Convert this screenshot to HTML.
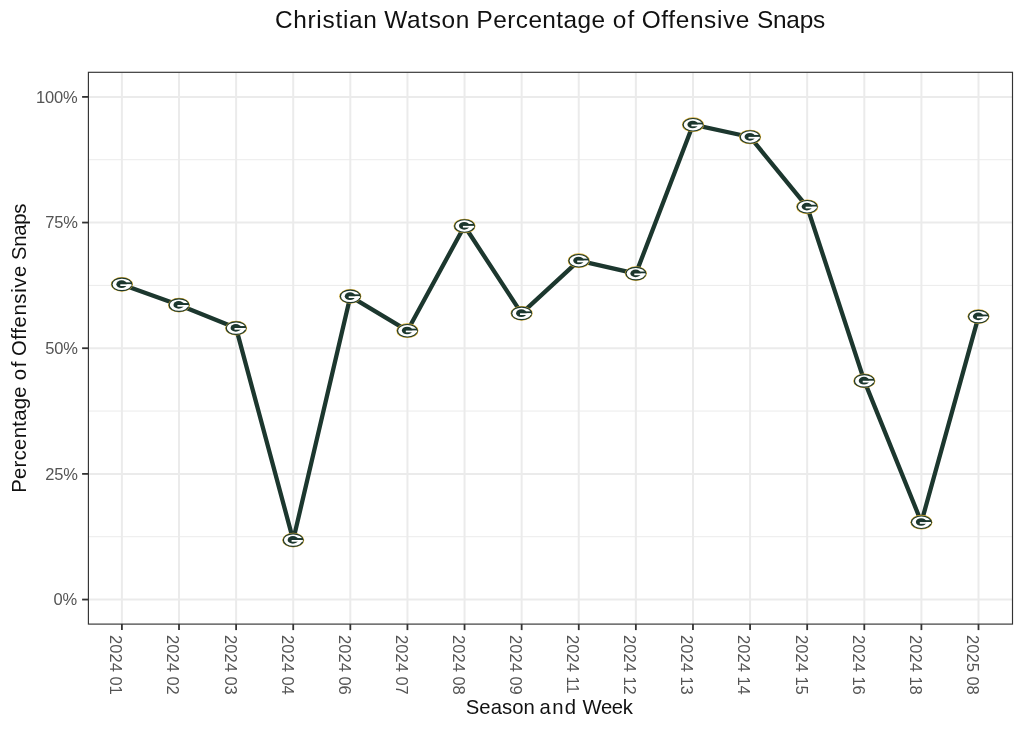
<!DOCTYPE html>
<html lang="en">
<head>
<meta charset="utf-8">
<title>Christian Watson Percentage of Offensive Snaps</title>
<style>
html,body{margin:0;padding:0;background:#fff;}
body{width:1024px;height:731px;overflow:hidden;}
svg{display:block;will-change:transform;-webkit-font-smoothing:antialiased;}
text{font-family:"Liberation Sans",sans-serif;}
.tick{font-size:16.5px;fill:#545454;}
.axt{font-size:20.3px;fill:#111;}
.ttl{font-size:24.4px;fill:#111;}
</style>
</head>
<body>
<svg width="1024" height="731" viewBox="0 0 1024 731">
<rect x="0" y="0" width="1024" height="731" fill="#ffffff"/>
<g stroke="#ebebeb" stroke-width="1.0" fill="none">
<line x1="88.4" x2="1012.5" y1="536.72" y2="536.72"/>
<line x1="88.4" x2="1012.5" y1="411.06" y2="411.06"/>
<line x1="88.4" x2="1012.5" y1="285.39" y2="285.39"/>
<line x1="88.4" x2="1012.5" y1="159.73" y2="159.73"/>
</g>
<g stroke="#ebebeb" stroke-width="2.0" fill="none">
<line x1="88.4" x2="1012.5" y1="599.55" y2="599.55"/>
<line x1="88.4" x2="1012.5" y1="473.89" y2="473.89"/>
<line x1="88.4" x2="1012.5" y1="348.22" y2="348.22"/>
<line x1="88.4" x2="1012.5" y1="222.56" y2="222.56"/>
<line x1="88.4" x2="1012.5" y1="96.90" y2="96.90"/>
<line x1="121.90" x2="121.90" y1="72.3" y2="624.1"/>
<line x1="179.01" x2="179.01" y1="72.3" y2="624.1"/>
<line x1="236.11" x2="236.11" y1="72.3" y2="624.1"/>
<line x1="293.22" x2="293.22" y1="72.3" y2="624.1"/>
<line x1="350.33" x2="350.33" y1="72.3" y2="624.1"/>
<line x1="407.43" x2="407.43" y1="72.3" y2="624.1"/>
<line x1="464.54" x2="464.54" y1="72.3" y2="624.1"/>
<line x1="521.65" x2="521.65" y1="72.3" y2="624.1"/>
<line x1="578.76" x2="578.76" y1="72.3" y2="624.1"/>
<line x1="635.86" x2="635.86" y1="72.3" y2="624.1"/>
<line x1="692.97" x2="692.97" y1="72.3" y2="624.1"/>
<line x1="750.08" x2="750.08" y1="72.3" y2="624.1"/>
<line x1="807.18" x2="807.18" y1="72.3" y2="624.1"/>
<line x1="864.29" x2="864.29" y1="72.3" y2="624.1"/>
<line x1="921.40" x2="921.40" y1="72.3" y2="624.1"/>
<line x1="978.50" x2="978.50" y1="72.3" y2="624.1"/>
</g>
<polyline points="121.9,284.4 179.0,305.1 236.1,328.1 293.2,540.1 350.3,296.4 407.4,330.7 464.5,226.0 521.6,313.4 578.8,260.7 635.9,273.6 693.0,124.7 750.1,137.0 807.2,206.8 864.3,380.9 921.4,522.2 978.5,316.6" fill="none" stroke="#1c372e" stroke-width="4.3" stroke-linejoin="round" stroke-linecap="butt"/>
<g transform="translate(121.9 284.4)"><ellipse rx="11.05" ry="7.35" fill="#d4a92c"/><ellipse rx="10.5" ry="6.8" fill="#1c372e"/><ellipse rx="9.25" ry="5.7" fill="#ffffff"/><ellipse cx="-0.3" cy="-0.2" rx="5.25" ry="3.85" fill="#1c372e"/><rect x="2" y="-2.05" width="7.7" height="2.0" fill="#1c372e"/><rect x="-1.6" y="-0.1" width="11.2" height="1.7" fill="#ffffff"/></g>
<g transform="translate(179.0 305.1)"><ellipse rx="11.05" ry="7.35" fill="#d4a92c"/><ellipse rx="10.5" ry="6.8" fill="#1c372e"/><ellipse rx="9.25" ry="5.7" fill="#ffffff"/><ellipse cx="-0.3" cy="-0.2" rx="5.25" ry="3.85" fill="#1c372e"/><rect x="2" y="-2.05" width="7.7" height="2.0" fill="#1c372e"/><rect x="-1.6" y="-0.1" width="11.2" height="1.7" fill="#ffffff"/></g>
<g transform="translate(236.1 328.1)"><ellipse rx="11.05" ry="7.35" fill="#d4a92c"/><ellipse rx="10.5" ry="6.8" fill="#1c372e"/><ellipse rx="9.25" ry="5.7" fill="#ffffff"/><ellipse cx="-0.3" cy="-0.2" rx="5.25" ry="3.85" fill="#1c372e"/><rect x="2" y="-2.05" width="7.7" height="2.0" fill="#1c372e"/><rect x="-1.6" y="-0.1" width="11.2" height="1.7" fill="#ffffff"/></g>
<g transform="translate(293.2 540.1)"><ellipse rx="11.05" ry="7.35" fill="#d4a92c"/><ellipse rx="10.5" ry="6.8" fill="#1c372e"/><ellipse rx="9.25" ry="5.7" fill="#ffffff"/><ellipse cx="-0.3" cy="-0.2" rx="5.25" ry="3.85" fill="#1c372e"/><rect x="2" y="-2.05" width="7.7" height="2.0" fill="#1c372e"/><rect x="-1.6" y="-0.1" width="11.2" height="1.7" fill="#ffffff"/></g>
<g transform="translate(350.3 296.4)"><ellipse rx="11.05" ry="7.35" fill="#d4a92c"/><ellipse rx="10.5" ry="6.8" fill="#1c372e"/><ellipse rx="9.25" ry="5.7" fill="#ffffff"/><ellipse cx="-0.3" cy="-0.2" rx="5.25" ry="3.85" fill="#1c372e"/><rect x="2" y="-2.05" width="7.7" height="2.0" fill="#1c372e"/><rect x="-1.6" y="-0.1" width="11.2" height="1.7" fill="#ffffff"/></g>
<g transform="translate(407.4 330.7)"><ellipse rx="11.05" ry="7.35" fill="#d4a92c"/><ellipse rx="10.5" ry="6.8" fill="#1c372e"/><ellipse rx="9.25" ry="5.7" fill="#ffffff"/><ellipse cx="-0.3" cy="-0.2" rx="5.25" ry="3.85" fill="#1c372e"/><rect x="2" y="-2.05" width="7.7" height="2.0" fill="#1c372e"/><rect x="-1.6" y="-0.1" width="11.2" height="1.7" fill="#ffffff"/></g>
<g transform="translate(464.5 226.0)"><ellipse rx="11.05" ry="7.35" fill="#d4a92c"/><ellipse rx="10.5" ry="6.8" fill="#1c372e"/><ellipse rx="9.25" ry="5.7" fill="#ffffff"/><ellipse cx="-0.3" cy="-0.2" rx="5.25" ry="3.85" fill="#1c372e"/><rect x="2" y="-2.05" width="7.7" height="2.0" fill="#1c372e"/><rect x="-1.6" y="-0.1" width="11.2" height="1.7" fill="#ffffff"/></g>
<g transform="translate(521.6 313.4)"><ellipse rx="11.05" ry="7.35" fill="#d4a92c"/><ellipse rx="10.5" ry="6.8" fill="#1c372e"/><ellipse rx="9.25" ry="5.7" fill="#ffffff"/><ellipse cx="-0.3" cy="-0.2" rx="5.25" ry="3.85" fill="#1c372e"/><rect x="2" y="-2.05" width="7.7" height="2.0" fill="#1c372e"/><rect x="-1.6" y="-0.1" width="11.2" height="1.7" fill="#ffffff"/></g>
<g transform="translate(578.8 260.7)"><ellipse rx="11.05" ry="7.35" fill="#d4a92c"/><ellipse rx="10.5" ry="6.8" fill="#1c372e"/><ellipse rx="9.25" ry="5.7" fill="#ffffff"/><ellipse cx="-0.3" cy="-0.2" rx="5.25" ry="3.85" fill="#1c372e"/><rect x="2" y="-2.05" width="7.7" height="2.0" fill="#1c372e"/><rect x="-1.6" y="-0.1" width="11.2" height="1.7" fill="#ffffff"/></g>
<g transform="translate(635.9 273.6)"><ellipse rx="11.05" ry="7.35" fill="#d4a92c"/><ellipse rx="10.5" ry="6.8" fill="#1c372e"/><ellipse rx="9.25" ry="5.7" fill="#ffffff"/><ellipse cx="-0.3" cy="-0.2" rx="5.25" ry="3.85" fill="#1c372e"/><rect x="2" y="-2.05" width="7.7" height="2.0" fill="#1c372e"/><rect x="-1.6" y="-0.1" width="11.2" height="1.7" fill="#ffffff"/></g>
<g transform="translate(693.0 124.7)"><ellipse rx="11.05" ry="7.35" fill="#d4a92c"/><ellipse rx="10.5" ry="6.8" fill="#1c372e"/><ellipse rx="9.25" ry="5.7" fill="#ffffff"/><ellipse cx="-0.3" cy="-0.2" rx="5.25" ry="3.85" fill="#1c372e"/><rect x="2" y="-2.05" width="7.7" height="2.0" fill="#1c372e"/><rect x="-1.6" y="-0.1" width="11.2" height="1.7" fill="#ffffff"/></g>
<g transform="translate(750.1 137.0)"><ellipse rx="11.05" ry="7.35" fill="#d4a92c"/><ellipse rx="10.5" ry="6.8" fill="#1c372e"/><ellipse rx="9.25" ry="5.7" fill="#ffffff"/><ellipse cx="-0.3" cy="-0.2" rx="5.25" ry="3.85" fill="#1c372e"/><rect x="2" y="-2.05" width="7.7" height="2.0" fill="#1c372e"/><rect x="-1.6" y="-0.1" width="11.2" height="1.7" fill="#ffffff"/></g>
<g transform="translate(807.2 206.8)"><ellipse rx="11.05" ry="7.35" fill="#d4a92c"/><ellipse rx="10.5" ry="6.8" fill="#1c372e"/><ellipse rx="9.25" ry="5.7" fill="#ffffff"/><ellipse cx="-0.3" cy="-0.2" rx="5.25" ry="3.85" fill="#1c372e"/><rect x="2" y="-2.05" width="7.7" height="2.0" fill="#1c372e"/><rect x="-1.6" y="-0.1" width="11.2" height="1.7" fill="#ffffff"/></g>
<g transform="translate(864.3 380.9)"><ellipse rx="11.05" ry="7.35" fill="#d4a92c"/><ellipse rx="10.5" ry="6.8" fill="#1c372e"/><ellipse rx="9.25" ry="5.7" fill="#ffffff"/><ellipse cx="-0.3" cy="-0.2" rx="5.25" ry="3.85" fill="#1c372e"/><rect x="2" y="-2.05" width="7.7" height="2.0" fill="#1c372e"/><rect x="-1.6" y="-0.1" width="11.2" height="1.7" fill="#ffffff"/></g>
<g transform="translate(921.4 522.2)"><ellipse rx="11.05" ry="7.35" fill="#d4a92c"/><ellipse rx="10.5" ry="6.8" fill="#1c372e"/><ellipse rx="9.25" ry="5.7" fill="#ffffff"/><ellipse cx="-0.3" cy="-0.2" rx="5.25" ry="3.85" fill="#1c372e"/><rect x="2" y="-2.05" width="7.7" height="2.0" fill="#1c372e"/><rect x="-1.6" y="-0.1" width="11.2" height="1.7" fill="#ffffff"/></g>
<g transform="translate(978.5 316.6)"><ellipse rx="11.05" ry="7.35" fill="#d4a92c"/><ellipse rx="10.5" ry="6.8" fill="#1c372e"/><ellipse rx="9.25" ry="5.7" fill="#ffffff"/><ellipse cx="-0.3" cy="-0.2" rx="5.25" ry="3.85" fill="#1c372e"/><rect x="2" y="-2.05" width="7.7" height="2.0" fill="#1c372e"/><rect x="-1.6" y="-0.1" width="11.2" height="1.7" fill="#ffffff"/></g>
<rect x="88.4" y="72.3" width="924.1" height="551.8" fill="none" stroke="#333333" stroke-width="1.15"/>
<g stroke="#333333" stroke-width="1.8" fill="none">
<line x1="82.1" x2="88.4" y1="599.55" y2="599.55"/>
<line x1="82.1" x2="88.4" y1="473.89" y2="473.89"/>
<line x1="82.1" x2="88.4" y1="348.22" y2="348.22"/>
<line x1="82.1" x2="88.4" y1="222.56" y2="222.56"/>
<line x1="82.1" x2="88.4" y1="96.90" y2="96.90"/>
<line x1="121.90" x2="121.90" y1="624.1" y2="630.1"/>
<line x1="179.01" x2="179.01" y1="624.1" y2="630.1"/>
<line x1="236.11" x2="236.11" y1="624.1" y2="630.1"/>
<line x1="293.22" x2="293.22" y1="624.1" y2="630.1"/>
<line x1="350.33" x2="350.33" y1="624.1" y2="630.1"/>
<line x1="407.43" x2="407.43" y1="624.1" y2="630.1"/>
<line x1="464.54" x2="464.54" y1="624.1" y2="630.1"/>
<line x1="521.65" x2="521.65" y1="624.1" y2="630.1"/>
<line x1="578.76" x2="578.76" y1="624.1" y2="630.1"/>
<line x1="635.86" x2="635.86" y1="624.1" y2="630.1"/>
<line x1="692.97" x2="692.97" y1="624.1" y2="630.1"/>
<line x1="750.08" x2="750.08" y1="624.1" y2="630.1"/>
<line x1="807.18" x2="807.18" y1="624.1" y2="630.1"/>
<line x1="864.29" x2="864.29" y1="624.1" y2="630.1"/>
<line x1="921.40" x2="921.40" y1="624.1" y2="630.1"/>
<line x1="978.50" x2="978.50" y1="624.1" y2="630.1"/>
</g>
<text class="tick" x="53.5" y="605.45" letter-spacing="-0.2">0%</text>
<text class="tick" x="45.2" y="479.79" letter-spacing="-0.2">25%</text>
<text class="tick" x="45.2" y="354.12" letter-spacing="-0.2">50%</text>
<text class="tick" x="45.2" y="228.46" letter-spacing="-0.2">75%</text>
<text class="tick" x="36.0" y="102.80" letter-spacing="-0.2">100%</text>
<text class="tick" transform="translate(110.30 635.1) rotate(90)" letter-spacing="0">2024 01</text>
<text class="tick" transform="translate(167.41 635.1) rotate(90)" letter-spacing="0">2024 02</text>
<text class="tick" transform="translate(224.51 635.1) rotate(90)" letter-spacing="0">2024 03</text>
<text class="tick" transform="translate(281.62 635.1) rotate(90)" letter-spacing="0">2024 04</text>
<text class="tick" transform="translate(338.73 635.1) rotate(90)" letter-spacing="0">2024 06</text>
<text class="tick" transform="translate(395.83 635.1) rotate(90)" letter-spacing="0">2024 07</text>
<text class="tick" transform="translate(452.94 635.1) rotate(90)" letter-spacing="0">2024 08</text>
<text class="tick" transform="translate(510.05 635.1) rotate(90)" letter-spacing="0">2024 09</text>
<text class="tick" transform="translate(567.16 635.1) rotate(90)" letter-spacing="0">2024 11</text>
<text class="tick" transform="translate(624.26 635.1) rotate(90)" letter-spacing="0">2024 12</text>
<text class="tick" transform="translate(681.37 635.1) rotate(90)" letter-spacing="0">2024 13</text>
<text class="tick" transform="translate(738.48 635.1) rotate(90)" letter-spacing="0">2024 14</text>
<text class="tick" transform="translate(795.58 635.1) rotate(90)" letter-spacing="0">2024 15</text>
<text class="tick" transform="translate(852.69 635.1) rotate(90)" letter-spacing="0">2024 16</text>
<text class="tick" transform="translate(909.80 635.1) rotate(90)" letter-spacing="0">2024 18</text>
<text class="tick" transform="translate(966.90 635.1) rotate(90)" letter-spacing="0">2025 08</text>
<text class="axt" y="714.3"><tspan x="465.70" letter-spacing="0.080">Season</tspan> <tspan x="539.50" letter-spacing="1.400">and</tspan> <tspan x="582.50" letter-spacing="-0.400">Week</tspan></text>
<text class="axt" transform="translate(26.3 491.8) rotate(-90)"><tspan x="-1.00" letter-spacing="0.300">Percentage</tspan> <tspan x="111.55" letter-spacing="1.650">of</tspan> <tspan x="135.70" letter-spacing="0.650">Offensive</tspan> <tspan x="231.70" letter-spacing="-0.237">Snaps</tspan></text>
<text class="ttl" y="28.0"><tspan x="274.90" letter-spacing="0.725">Christian</tspan> <tspan x="384.30" letter-spacing="0.640">Watson</tspan> <tspan x="476.60" letter-spacing="0.411">Percentage</tspan> <tspan x="612.70" letter-spacing="1.300">of</tspan> <tspan x="641.70" letter-spacing="0.644">Offensive</tspan> <tspan x="756.90" letter-spacing="-0.200">Snaps</tspan></text>
</svg>
</body>
</html>
